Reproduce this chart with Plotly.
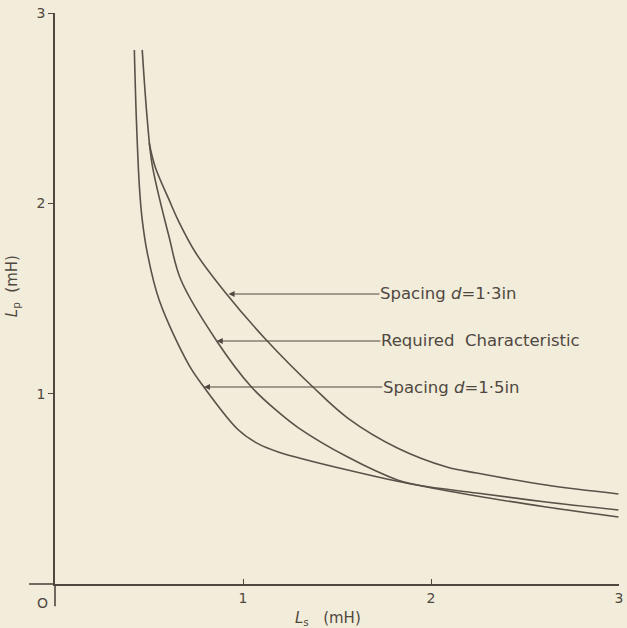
import plotly.graph_objects as go

# ---- data (Ls in mH, Lp in mH) ----
d15_x = [0.422, 0.433, 0.449, 0.464, 0.491, 0.554, 0.712, 0.792, 0.976, 1.082, 1.187, 1.557, 1.926, 2.243, 2.612, 2.997]
d15_y = [2.806, 2.438, 2.086, 1.913, 1.739, 1.492, 1.151, 1.035, 0.809, 0.736, 0.694, 0.599, 0.520, 0.478, 0.431, 0.389]

req_x = [0.464, 0.491, 0.517, 0.607, 0.670, 0.860, 1.045, 1.187, 1.293, 1.557, 1.821, 1.926, 2.243, 2.612, 2.997]
req_y = [2.806, 2.438, 2.202, 1.823, 1.597, 1.277, 1.035, 0.904, 0.822, 0.667, 0.547, 0.520, 0.462, 0.405, 0.352]

d13_x = [0.501, 0.533, 0.607, 0.654, 0.749, 0.908, 1.124, 1.372, 1.557, 1.821, 2.084, 2.243, 2.612, 2.997]
d13_y = [2.317, 2.191, 2.018, 1.913, 1.739, 1.529, 1.282, 1.035, 0.872, 0.715, 0.615, 0.583, 0.520, 0.473]

x_ticks = [1, 2, 3]
y_ticks = [1, 2, 3]

# labels: text, arrow tip (x, y), label start x
labels = ["Spacing <i>d</i>=1·3in", "Required  Characteristic", "Spacing <i>d</i>=1·5in"]
tip_x = [0.923, 0.860, 0.792]
tip_y = [1.524, 1.277, 1.035]
label_x = [1.726, 1.731, 1.741]

BG = "#f2ecda"
INK = "#4f4840"
FONT = "DejaVu Sans"

fig = go.Figure()
for xs, ys in [(d15_x, d15_y), (req_x, req_y), (d13_x, d13_y)]:
    fig.add_trace(go.Scatter(x=xs, y=ys, mode="lines",
                             line=dict(color="#5a5249", width=1.6, shape="spline", smoothing=1.0),
                             showlegend=False, hoverinfo="skip"))

annotations = []
for t, tx, ty, lx in zip(labels, tip_x, tip_y, label_x):
    annotations.append(dict(x=tx, y=ty, xref="x", yref="y", ax=lx, ay=ty, axref="x", ayref="y",
                            text=t, showarrow=True, arrowhead=2, arrowsize=1.1, arrowwidth=1.1,
                            arrowcolor=INK, xanchor="left", yanchor="middle", borderpad=0, standoff=0,
                            font=dict(family=FONT, size=16.5, color=INK)))

annotations.append(dict(x=-0.074, y=0.522, xref="paper", yref="paper", showarrow=False,
                        xanchor="center", yanchor="middle",
                        text="<i>L</i><sub>p</sub>  (mH)", textangle=-90,
                        font=dict(family=FONT, size=15, color=INK)))
annotations.append(dict(x=0.484, y=-0.060, xref="paper", yref="paper", showarrow=False,
                        xanchor="center", yanchor="middle",
                        text="<i>L</i><sub>s</sub>   (mH)",
                        font=dict(family=FONT, size=15, color=INK)))
annotations.append(dict(x=-0.023, y=-0.033, xref="paper", yref="paper", showarrow=False,
                        xanchor="center", yanchor="middle",
                        text="O", font=dict(family=FONT, size=14, color=INK)))

fig.update_layout(
    width=627, height=628,
    margin=dict(l=55, r=4, t=13, b=44),
    paper_bgcolor=BG, plot_bgcolor=BG,
    font=dict(family=FONT, size=14, color=INK),
    annotations=annotations,
    shapes=[
        dict(type="line", xref="paper", yref="paper", x0=-0.046, x1=0, y0=0, y1=0,
             line=dict(color=INK, width=1.6)),
        dict(type="line", xref="paper", yref="paper", x0=0, x1=0, y0=-0.039, y1=0,
             line=dict(color=INK, width=1.6)),
    ],
    xaxis=dict(range=[0, 3], tickvals=x_ticks, showgrid=False, zeroline=False,
               showline=True, linecolor=INK, linewidth=1.6, ticks="inside", ticklen=5,
               tickcolor=INK, ticklabeloverflow="allow",
               tickfont=dict(family=FONT, size=14, color=INK)),
    yaxis=dict(range=[0, 3], tickvals=y_ticks, showgrid=False, zeroline=False,
               showline=True, linecolor=INK, linewidth=1.6, ticks="outside", ticklen=5,
               tickcolor=INK, ticklabeloverflow="allow",
               tickfont=dict(family=FONT, size=14, color=INK)),
)

fig.write_html(
    "out.html",
    config={"displayModeBar": False},
    post_script="document.body.style.margin='0';document.body.style.overflow='hidden';"
                "document.body.style.background='" + BG + "';",
)
